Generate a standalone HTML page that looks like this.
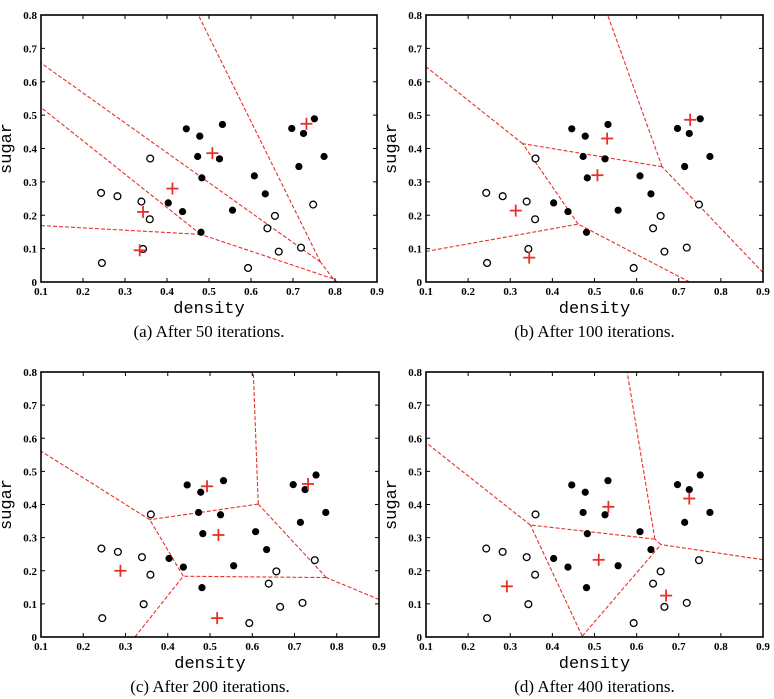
<!DOCTYPE html>
<html><head><meta charset="utf-8">
<style>
body{margin:0;background:#fff;}
svg{display:block;}
.tick{font-family:"Liberation Serif",serif;font-weight:bold;font-size:11px;fill:#000;}
.axt{font-family:"Liberation Mono",monospace;font-size:17px;fill:#000;}
.cap{font-family:"Liberation Serif",serif;font-size:17px;fill:#000;}
</style></head>
<body>
<svg id="fig" width="774" height="699" viewBox="0 0 774 699" xmlns="http://www.w3.org/2000/svg"></svg>
<script>
const densityVals=[0.697,0.774,0.634,0.608,0.556,0.403,0.481,0.437,0.666,0.243,0.245,0.343,0.639,0.657,0.360,0.593,0.719,0.359,0.339,0.282,0.748,0.714,0.483,0.478,0.525,0.751,0.532,0.473,0.725,0.446];
const sugarVals=[0.460,0.376,0.264,0.318,0.215,0.237,0.149,0.211,0.091,0.267,0.057,0.099,0.161,0.198,0.370,0.042,0.103,0.188,0.241,0.257,0.232,0.346,0.312,0.437,0.369,0.489,0.472,0.376,0.445,0.459];
const classVals=[1,1,1,1,1,1,1,1,0,0,0,0,0,0,0,0,0,0,0,0,0,1,1,1,1,1,1,1,1,1];
const protoA=[[0.335,0.095],[0.343,0.21],[0.413,0.28],[0.508,0.386],[0.732,0.474]];
const protoB=[[0.313,0.214],[0.345,0.073],[0.507,0.32],[0.53,0.43],[0.727,0.486]];
const protoC=[[0.288,0.2],[0.517,0.057],[0.52,0.308],[0.493,0.455],[0.732,0.462]];
const protoD=[[0.292,0.153],[0.51,0.233],[0.533,0.393],[0.67,0.125],[0.725,0.418]];
const xTicks=[0.1,0.2,0.3,0.4,0.5,0.6,0.7,0.8,0.9];
const yTicks=[0,0.1,0.2,0.3,0.4,0.5,0.6,0.7,0.8];
const captions=["(a) After 50 iterations.","(b) After 100 iterations.","(c) After 200 iterations.","(d) After 400 iterations."];
const panels=[
 {id:'a',x0:41,x1:377,y0:15,y1:282,p:protoA,cap:captions[0]},
 {id:'b',x0:426,x1:763,y0:15,y1:282,p:protoB,cap:captions[1]},
 {id:'c',x0:41,x1:379,y0:372,y1:637,p:protoC,cap:captions[2]},
 {id:'d',x0:426,x1:763,y0:372,y1:637,p:protoD,cap:captions[3]}];
const NS="http://www.w3.org/2000/svg";
const svg=document.getElementById('fig');
function mk(tag,attrs,parent){const e=document.createElementNS(NS,tag);for(const k in attrs)e.setAttribute(k,attrs[k]);parent.appendChild(e);return e;}
const XMIN=0.1,XMAX=0.9,YMIN=0,YMAX=0.8;
panels.forEach(P=>{
 const sx=v=>P.x0+(v-XMIN)/(XMAX-XMIN)*(P.x1-P.x0);
 const sy=v=>P.y1-(v-YMIN)/(YMAX-YMIN)*(P.y1-P.y0);
 const g=mk('g',{},svg);
 
 
 const pr=P.p;
 const eg=mk('g',{},g);
 
 
 for(let i=0;i<pr.length;i++)for(let j=i+1;j<pr.length;j++){
  const [ax,ay]=pr[i],[bx,by]=pr[j];
  const mx=(ax+bx)/2,my=(ay+by)/2,nx=-(by-ay),ny=bx-ax;
  let tmin=-1e9,tmax=1e9;
  const cons=[[XMIN-mx,-nx],[mx-XMAX,nx],[YMIN-my,-ny],[my-YMAX,ny]];
  for(let k=0;k<pr.length;k++){if(k===i||k===j)continue;const [kx,ky]=pr[k];
   const dx=kx-ax,dy=ky-ay,rhs=(kx*kx+ky*ky-ax*ax-ay*ay);
   cons.push([2*(mx*dx+my*dy)-rhs,2*(nx*dx+ny*dy)]);}
  let ok=true;
  for(const [c0,c1] of cons){
   if(Math.abs(c1)<1e-12){if(c0>0){ok=false;}continue;}
   const t=-c0/c1; if(c1>0)tmax=Math.min(tmax,t);else tmin=Math.max(tmin,t);}
  if(!ok||tmin>=tmax)continue;
  const l=mk('line',{x1:sx(mx+nx*tmin),y1:sy(my+ny*tmin),x2:sx(mx+nx*tmax),y2:sy(my+ny*tmax),stroke:'#e8302a','stroke-width':1.1,'stroke-dasharray':'4,2'},eg);
  
  
 }
 const fr=mk('rect',{x:P.x0,y:P.y0,width:P.x1-P.x0,height:P.y1-P.y0,fill:'none',stroke:'#000','stroke-width':1.6},g);
 
 
 xTicks.forEach(v=>{const x=sx(v);
  mk('line',{x1:x,y1:P.y1,x2:x,y2:P.y1-4,stroke:'#000'},g);
  mk('line',{x1:x,y1:P.y0,x2:x,y2:P.y0+4,stroke:'#000'},g);
  const t=mk('text',{x:x,y:P.y1+13,'text-anchor':'middle',class:'tick'},g);t.textContent=String(v);
  
  });
 yTicks.forEach(v=>{const y=sy(v);
  mk('line',{x1:P.x0,y1:y,x2:P.x0+4,y2:y,stroke:'#000'},g);
  mk('line',{x1:P.x1,y1:y,x2:P.x1-4,y2:y,stroke:'#000'},g);
  const t=mk('text',{x:P.x0-4,y:y+4,'text-anchor':'end',class:'tick'},g);t.textContent=String(v);
  
  });
 const xt=mk('text',{x:(P.x0+P.x1)/2,y:P.y1+31,'text-anchor':'middle',class:'axt'},g);xt.textContent='density';
 
 
 const cy=(P.y0+P.y1)/2, cx=P.x0-30;
 const yt=mk('text',{x:cx,y:cy,'text-anchor':'middle',class:'axt',transform:`rotate(-90 ${cx} ${cy})`},g);yt.textContent='sugar';
 
 
 const cp=mk('text',{x:(P.x0+P.x1)/2,y:P.y1+55,'text-anchor':'middle',class:'cap'},g);cp.textContent=P.cap;
 
 
 densityVals.forEach((d,i)=>{
  const c=mk('circle',{cx:sx(d),cy:sy(sugarVals[i]),r:classVals[i]?3.6:3.4,fill:classVals[i]?'#000':'#fff',stroke:'#000','stroke-width':classVals[i]?0:1.3},g);
  
  });
 pr.forEach(([px,py])=>{const x=sx(px),y=sy(py);
  const cg=mk('g',{stroke:'#e8302a','stroke-width':1.8},g);
  
  
  mk('line',{x1:x-6,y1:y,x2:x+6,y2:y},cg);mk('line',{x1:x,y1:y-6,x2:x,y2:y+6},cg);});
});
</script>
</body></html>
